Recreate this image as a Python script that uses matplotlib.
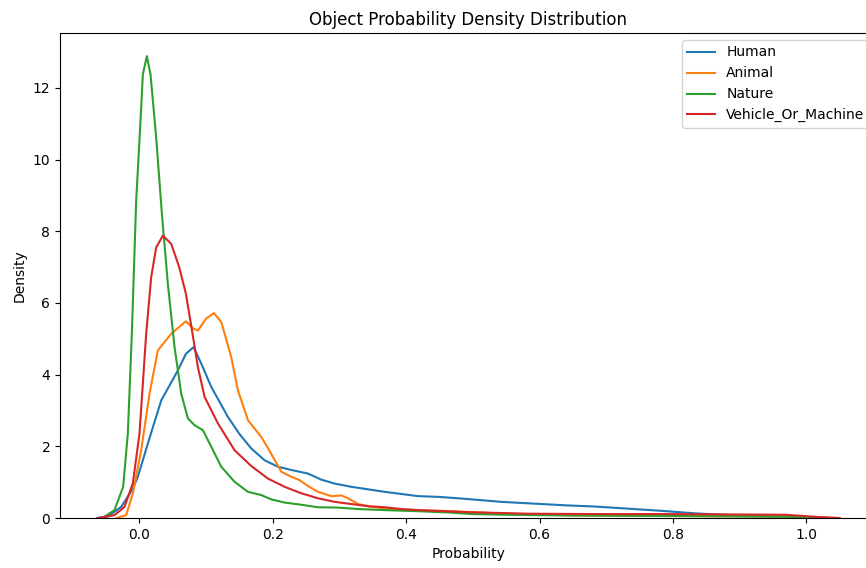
import matplotlib
matplotlib.use("Agg")
import matplotlib.pyplot as plt

# values
human_x = [-0.063, -0.047, -0.027, -0.010, -0.002, 0.015, 0.033, 0.058, 0.070, 0.0815,
           0.093, 0.108, 0.133, 0.150, 0.168, 0.188, 0.208, 0.228, 0.253, 0.273,
           0.293, 0.318, 0.343, 0.368, 0.393, 0.418, 0.448, 0.478, 0.498, 0.543,
           0.583, 0.643, 0.683, 0.733, 0.783, 0.833, 0.883, 0.93, 0.98, 1.04]
human_y = [0, 0.04, 0.31, 0.80, 1.15, 2.20, 3.28, 4.12, 4.58, 4.77,
           4.31, 3.66, 2.82, 2.35, 1.94, 1.61, 1.43, 1.34, 1.24, 1.07,
           0.96, 0.87, 0.80, 0.73, 0.67, 0.61, 0.59, 0.55, 0.52, 0.45,
           0.41, 0.35, 0.32, 0.26, 0.20, 0.13, 0.08, 0.05, 0.03, 0]

animal_x = [-0.034, -0.0195, -0.0095, 0.003, 0.0155, 0.028, 0.048, 0.070, 0.080, 0.088,
            0.100, 0.112, 0.123, 0.138, 0.148, 0.163, 0.183, 0.193, 0.203, 0.213,
            0.228, 0.240, 0.253, 0.268, 0.288, 0.303, 0.313, 0.328, 0.348, 0.378,
            0.418, 0.468, 0.55, 0.65, 0.75, 0.85, 0.95, 1.0, 1.04]
animal_y = [0, 0.08, 0.69, 1.89, 3.47, 4.68, 5.14, 5.49, 5.30, 5.23,
            5.56, 5.72, 5.47, 4.49, 3.56, 2.73, 2.26, 1.95, 1.62, 1.29,
            1.15, 1.06, 0.89, 0.73, 0.61, 0.63, 0.55, 0.39, 0.31, 0.25,
            0.22, 0.19, 0.12, 0.07, 0.06, 0.05, 0.04, 0.02, 0]

nature_x = [-0.055, -0.037, -0.024, -0.017, -0.011, -0.0045, 0.002, 0.0055, 0.0115, 0.017,
            0.0255, 0.034, 0.043, 0.053, 0.063, 0.073, 0.083, 0.0955, 0.108, 0.123,
            0.143, 0.163, 0.183, 0.198, 0.218, 0.243, 0.268, 0.298, 0.328, 0.368,
            0.418, 0.468, 0.498, 0.55, 0.65, 0.75, 0.85, 0.95, 1.0, 1.03]
nature_y = [0, 0.22, 0.87, 2.36, 5.14, 8.85, 11.08, 12.38, 12.89, 12.38,
            10.61, 8.50, 6.53, 4.77, 3.47, 2.78, 2.59, 2.45, 1.99, 1.43,
            1.01, 0.73, 0.64, 0.52, 0.43, 0.37, 0.30, 0.29, 0.25, 0.22,
            0.19, 0.15, 0.11, 0.09, 0.07, 0.06, 0.05, 0.04, 0.02, 0]

vehicle_x = [-0.062, -0.037, -0.022, -0.0095, 0.0005, 0.0105, 0.018, 0.0255, 0.0355, 0.048,
             0.060, 0.070, 0.080, 0.088, 0.098, 0.118, 0.143, 0.168, 0.193, 0.218,
             0.243, 0.268, 0.293, 0.318, 0.343, 0.368, 0.393, 0.418, 0.468, 0.498,
             0.583, 0.683, 0.783, 0.883, 0.968, 0.993, 1.023, 1.05]
vehicle_y = [0, 0.08, 0.31, 0.97, 2.36, 5.14, 6.72, 7.55, 7.88, 7.65,
             7.00, 6.26, 5.14, 4.21, 3.38, 2.64, 1.89, 1.45, 1.10, 0.87,
             0.69, 0.55, 0.45, 0.39, 0.33, 0.30, 0.25, 0.22, 0.18, 0.16,
             0.12, 0.11, 0.11, 0.10, 0.09, 0.06, 0.02, 0]

labels = ["Human", "Animal", "Nature", "Vehicle_Or_Machine"]
colors = ["#1f77b4", "#ff7f0e", "#2ca02c", "#d62728"]

fig = plt.figure(figsize=(8.66, 5.68), dpi=100)
# axes run slightly past the right edge, as in the cropped original
ax = fig.add_axes([60 / 866, 50 / 568, 817 / 866, 485 / 568])

series = [(human_x, human_y), (animal_x, animal_y), (nature_x, nature_y), (vehicle_x, vehicle_y)]
for (xs, ys), lab, c in zip(series, labels, colors):
    ax.plot(xs, ys, color=c, lw=1.5, label=lab)

ax.set_ylim(bottom=0)
ax.set_title("Object Probability Density Distribution")
ax.set_xlabel("Probability")
ax.set_ylabel("Density")
ax.legend(loc="upper right")

fig.savefig("out.png", dpi=100)
